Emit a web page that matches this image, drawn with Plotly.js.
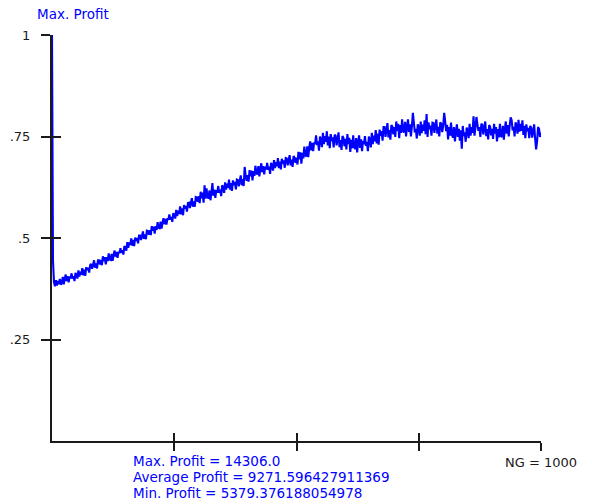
<!DOCTYPE html>
<html>
<head>
<meta charset="utf-8">
<script src="https://cdn.plot.ly/plotly-3.0.1.min.js"></script>
<style>
  html, body { margin: 0; padding: 0; background: #ffffff; }
  #chart { width: 592px; height: 504px; }
</style>
</head>
<body>
<div id="chart"></div>
<script>
// Normalised best profit per generation (sampled every GEN_STEP generations, NG = 1000)
const GEN_STEP = 2;
const maxProfit = [
  1.000, 0.445, 0.392, 0.381, 0.396, 0.383, 0.394, 0.386, 0.399, 0.385,
  0.389, 0.404, 0.386, 0.399, 0.410, 0.394, 0.406, 0.391, 0.405, 0.401,
  0.413, 0.400, 0.406, 0.394, 0.414, 0.410, 0.400, 0.420, 0.405, 0.417,
  0.410, 0.426, 0.408, 0.422, 0.407, 0.428, 0.421, 0.427, 0.415, 0.433,
  0.436, 0.424, 0.434, 0.445, 0.427, 0.437, 0.425, 0.445, 0.445, 0.435,
  0.446, 0.433, 0.455, 0.443, 0.453, 0.435, 0.453, 0.443, 0.462, 0.447,
  0.446, 0.461, 0.444, 0.458, 0.469, 0.454, 0.466, 0.451, 0.466, 0.463,
  0.475, 0.463, 0.470, 0.459, 0.480, 0.477, 0.469, 0.490, 0.476, 0.489,
  0.483, 0.499, 0.481, 0.495, 0.480, 0.501, 0.493, 0.500, 0.487, 0.506,
  0.506, 0.495, 0.505, 0.516, 0.498, 0.509, 0.497, 0.518, 0.517, 0.508,
  0.519, 0.507, 0.529, 0.518, 0.528, 0.511, 0.529, 0.520, 0.539, 0.525,
  0.524, 0.540, 0.523, 0.537, 0.549, 0.534, 0.547, 0.533, 0.548, 0.545,
  0.558, 0.545, 0.552, 0.540, 0.561, 0.557, 0.548, 0.569, 0.554, 0.567,
  0.559, 0.578, 0.558, 0.573, 0.556, 0.581, 0.572, 0.579, 0.565, 0.586,
  0.587, 0.574, 0.587, 0.598, 0.577, 0.590, 0.577, 0.601, 0.600, 0.589,
  0.603, 0.586, 0.614, 0.598, 0.612, 0.587, 0.630, 0.597, 0.622, 0.602,
  0.597, 0.617, 0.593, 0.611, 0.635, 0.604, 0.619, 0.599, 0.618, 0.612,
  0.628, 0.611, 0.619, 0.603, 0.630, 0.624, 0.611, 0.637, 0.619, 0.634,
  0.624, 0.644, 0.619, 0.635, 0.616, 0.642, 0.630, 0.638, 0.620, 0.644,
  0.643, 0.627, 0.641, 0.654, 0.630, 0.645, 0.628, 0.675, 0.653, 0.641,
  0.655, 0.639, 0.667, 0.652, 0.666, 0.642, 0.665, 0.653, 0.678, 0.659,
  0.657, 0.677, 0.652, 0.670, 0.684, 0.662, 0.677, 0.657, 0.676, 0.669,
  0.685, 0.668, 0.676, 0.658, 0.685, 0.679, 0.666, 0.692, 0.672, 0.687,
  0.677, 0.697, 0.672, 0.688, 0.669, 0.695, 0.683, 0.691, 0.673, 0.697,
  0.696, 0.679, 0.692, 0.704, 0.679, 0.693, 0.675, 0.702, 0.698, 0.685,
  0.698, 0.681, 0.712, 0.694, 0.711, 0.683, 0.710, 0.696, 0.725, 0.703,
  0.701, 0.726, 0.699, 0.722, 0.738, 0.716, 0.734, 0.714, 0.735, 0.731,
  0.753, 0.729, 0.738, 0.715, 0.750, 0.742, 0.724, 0.759, 0.731, 0.751,
  0.737, 0.763, 0.728, 0.750, 0.721, 0.756, 0.739, 0.748, 0.723, 0.754,
  0.752, 0.728, 0.744, 0.760, 0.724, 0.741, 0.717, 0.751, 0.747, 0.726,
  0.744, 0.718, 0.756, 0.731, 0.747, 0.712, 0.742, 0.721, 0.753, 0.724,
  0.719, 0.746, 0.711, 0.735, 0.753, 0.722, 0.743, 0.714, 0.739, 0.731,
  0.751, 0.727, 0.737, 0.714, 0.750, 0.742, 0.723, 0.759, 0.731, 0.752,
  0.738, 0.766, 0.733, 0.757, 0.730, 0.767, 0.752, 0.763, 0.740, 0.773,
  0.773, 0.749, 0.767, 0.783, 0.748, 0.766, 0.742, 0.778, 0.775, 0.755,
  0.773, 0.749, 0.787, 0.764, 0.781, 0.746, 0.778, 0.759, 0.792, 0.764,
  0.760, 0.786, 0.750, 0.774, 0.792, 0.761, 0.780, 0.750, 0.775, 0.808,
  0.785, 0.760, 0.769, 0.745, 0.780, 0.771, 0.752, 0.787, 0.758, 0.779,
  0.764, 0.790, 0.756, 0.805, 0.749, 0.785, 0.768, 0.777, 0.752, 0.784,
  0.783, 0.759, 0.776, 0.792, 0.757, 0.774, 0.750, 0.785, 0.781, 0.761,
  0.777, 0.808, 0.788, 0.763, 0.779, 0.743, 0.773, 0.752, 0.784, 0.754,
  0.747, 0.773, 0.738, 0.762, 0.780, 0.749, 0.769, 0.740, 0.765, 0.720,
  0.776, 0.751, 0.760, 0.737, 0.772, 0.764, 0.746, 0.781, 0.752, 0.773,
  0.759, 0.800, 0.752, 0.773, 0.798, 0.780, 0.764, 0.773, 0.749, 0.781,
  0.779, 0.755, 0.771, 0.787, 0.751, 0.768, 0.743, 0.778, 0.774, 0.753,
  0.769, 0.744, 0.781, 0.757, 0.773, 0.738, 0.768, 0.748, 0.781, 0.751,
  0.749, 0.776, 0.742, 0.768, 0.787, 0.757, 0.778, 0.750, 0.777, 0.797,
  0.790, 0.765, 0.774, 0.750, 0.785, 0.776, 0.757, 0.791, 0.762, 0.781,
  0.764, 0.790, 0.754, 0.776, 0.746, 0.780, 0.763, 0.771, 0.746, 0.776,
  0.771, 0.747, 0.764, 0.780, 0.745, 0.718, 0.738, 0.773, 0.769, 0.749,
  0.760
];

// Axis ticks
const yTickVals = [0.25, 0.5, 0.75, 1];
const yTickText = ['.25', '.5', '.75', '1'];
const xTickVals = [250, 500, 750, 1000];
const xTickText = ['', '', '', 'NG = 1000'];

// Run summary printed under the axis
const statLabels = ['Max. Profit', 'Average Profit', 'Min. Profit'];
const statValues = ['14306.0', '9271.596427911369', '5379.376188054978'];

const generations = maxProfit.map((_, i) => i * GEN_STEP);

const BLUE = '#0000ff';
const INK = '#1a1a1a';
const FONT = 'DejaVu Sans, Verdana, sans-serif';

const traces = [
  {
    x: generations,
    y: maxProfit,
    type: 'scatter',
    mode: 'lines',
    line: { color: BLUE, width: 2.1, simplify: false },
    hoverinfo: 'x+y',
    showlegend: false
  },
  {
    // carries the second axis pair that draws the inward half of each tick
    x: [null], y: [null],
    xaxis: 'x2', yaxis: 'y2',
    type: 'scatter', mode: 'lines',
    hoverinfo: 'skip', showlegend: false
  }
];

const tickFont = { family: FONT, size: 13, color: INK };

const annotations = [
  {
    text: 'Max. Profit',
    xref: 'paper', yref: 'paper', x: 0, y: 1,
    xanchor: 'left', yanchor: 'middle',
    xshift: -17, yshift: 21,
    showarrow: false,
    font: { family: FONT, size: 13.5, color: BLUE }
  }
].concat(statLabels.map((label, i) => ({
  text: label + ' = ' + statValues[i],
  xref: 'paper', yref: 'paper', x: 0, y: 0,
  xanchor: 'left', yanchor: 'middle',
  xshift: 79, yshift: -20 - 16 * i,
  showarrow: false,
  font: { family: FONT, size: 13.5, color: BLUE }
})));

const layout = {
  width: 592,
  height: 504,
  margin: { l: 52, r: 51, t: 35, b: 63, pad: 0 },
  paper_bgcolor: '#ffffff',
  plot_bgcolor: '#ffffff',
  showlegend: false,
  font: { family: FONT, size: 13, color: INK },
  xaxis: {
    range: [0, 1000],
    showgrid: false, zeroline: false,
    showline: true, linecolor: INK, linewidth: 2,
    ticks: 'outside', ticklen: 8, tickwidth: 2, tickcolor: INK,
    tickmode: 'array', tickvals: xTickVals, ticktext: xTickText,
    tickfont: tickFont,
    layer: 'below traces',
    fixedrange: true
  },
  yaxis: {
    range: [0, 1],
    showgrid: false, zeroline: false,
    showline: true, linecolor: INK, linewidth: 2,
    ticks: 'outside', ticklen: 9, tickwidth: 2, tickcolor: INK,
    tickmode: 'array', tickvals: yTickVals, ticktext: yTickText,
    tickfont: tickFont,
    ticklabelstandoff: 8,
    layer: 'below traces',
    fixedrange: true
  },
  xaxis2: {
    overlaying: 'x', anchor: 'y2', side: 'bottom',
    range: [0, 1000],
    showgrid: false, zeroline: false, showline: false,
    ticks: 'inside', ticklen: 8, tickwidth: 2, tickcolor: INK,
    tickmode: 'array', tickvals: xTickVals,
    showticklabels: false, fixedrange: true
  },
  yaxis2: {
    overlaying: 'y', anchor: 'x2', side: 'left',
    range: [0, 1],
    showgrid: false, zeroline: false, showline: false,
    ticks: 'inside', ticklen: 9, tickwidth: 2, tickcolor: INK,
    tickmode: 'array', tickvals: yTickVals,
    showticklabels: false, fixedrange: true
  },
  annotations: annotations
};

Plotly.newPlot('chart', traces, layout, { displayModeBar: false, staticPlot: true });
</script>
</body>
</html>
